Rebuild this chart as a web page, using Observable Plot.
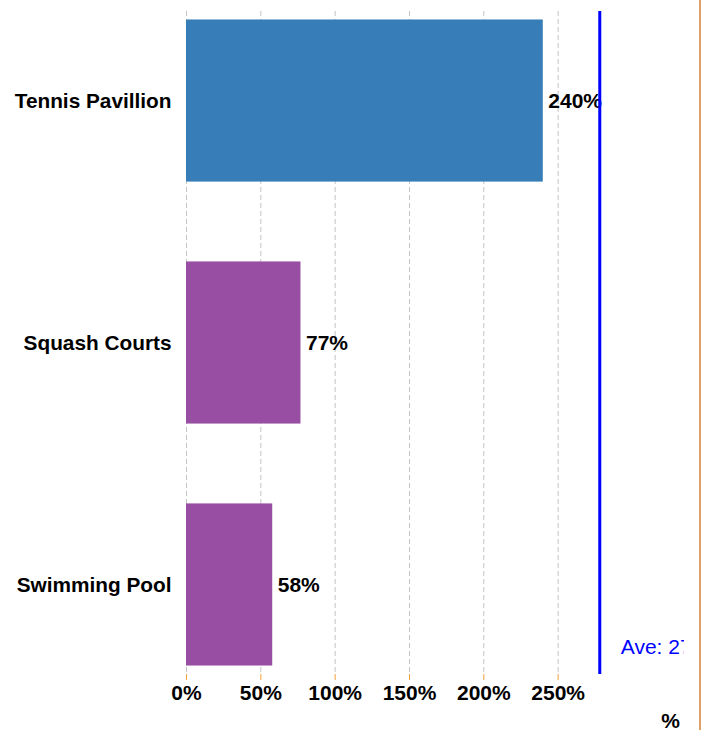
<!DOCTYPE html>
<html>
<head>
<meta charset="utf-8">
<script src="https://cdn.jsdelivr.net/npm/d3@7"></script>
<script src="https://cdn.jsdelivr.net/npm/@observablehq/plot@0.6"></script>
<style>
  html, body { margin: 0; padding: 0; background: #fff; }
  #wrap { position: relative; width: 702px; height: 730px; overflow: hidden; }
  #edge { position: absolute; left: 699px; top: 0; width: 1.5px; height: 730px; background: #dfa168; }
  svg { font-family: "Liberation Sans", Arial, sans-serif; }
</style>
</head>
<body>
<div id="wrap"><div id="edge"></div></div>
<script>
const facilities = ["Tennis Pavillion", "Squash Courts", "Swimming Pool"];
const percents = [240, 77, 58];
const barColors = ["#377eb8", "#984ea3", "#984ea3"];
const xTicks = [0, 50, 100, 150, 200, 250];
const averageValue = 278;
const averageLabel = "Ave: 278%";
const axisLabel = "%";

const data = facilities.map((name, i) => ({name, value: percents[i], color: barColors[i]}));

const chart = Plot.plot({
  width: 702,
  height: 730,
  marginTop: 11,
  marginBottom: 56,
  marginLeft: 186,
  marginRight: 18,
  style: {fontFamily: "'Liberation Sans', Arial, sans-serif", background: "white"},
  x: {domain: [0, 335]},
  y: {domain: facilities, padding: 0.33, paddingOuter: 0.035, round: false},
  marks: [
    Plot.gridX(xTicks, {stroke: "#c4c4c4", strokeOpacity: 1, strokeDasharray: "5,3"}),
    Plot.barX(data, {x: "value", y: "name", fill: "color"}),
    Plot.text(data, {
      x: "value", y: "name", text: d => d.value + "%", textAnchor: "start", dx: 5,
      fontWeight: "bold", fontSize: 21, fill: "black"
    }),
    Plot.ruleX([averageValue], {stroke: "#0000ff", strokeWidth: 3}),
    Plot.text([averageLabel], {
      x: [averageValue], frameAnchor: "bottom", dy: -21, dx: 21, textAnchor: "start",
      fill: "#0000ff", fontSize: 21, clip: true
    }),
    Plot.axisX({
      ticks: xTicks, tickFormat: d => d + "%", tickSize: 6, tickPadding: 5,
      stroke: "#f5a040", fill: "black", fontSize: 21, fontWeight: "bold", label: null
    }),
    Plot.axisY({tickSize: 0, tickPadding: 15, fontSize: 20.8, fontWeight: "bold", fill: "black", label: null}),
    Plot.text([axisLabel], {frameAnchor: "bottom-right", dx: -14, dy: 53, textAnchor: "middle",
      fontWeight: "bold", fontSize: 21, fill: "black"})
  ]
});
document.getElementById("wrap").prepend(chart);
</script>
</body>
</html>
